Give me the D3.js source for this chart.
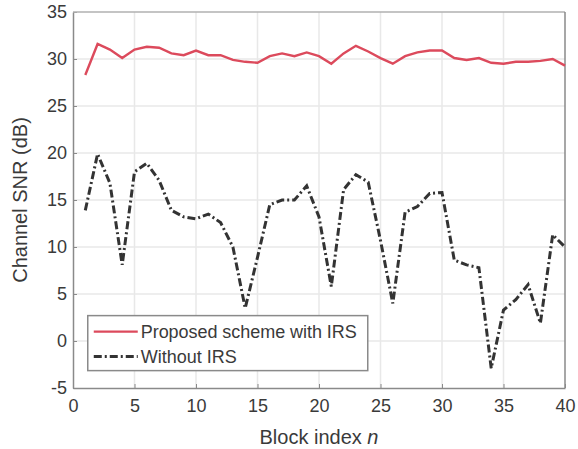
<!DOCTYPE html>
<html>
<head>
<meta charset="utf-8">
<script src="https://cdn.jsdelivr.net/npm/d3@7"></script>
<style>
  body { margin: 0; background: #fff; }
  svg text { font-family: "Liberation Sans", Arial, sans-serif; fill: #3a3a3a; }
</style>
</head>
<body>
<div id="chart"></div>
<script>
// block indices 1..40
var blocks = d3.range(1, 41);

// Proposed scheme with IRS (dB)
var withIRS = [28.3, 31.6, 31.0, 30.1, 31.0, 31.3, 31.2, 30.6, 30.4, 30.9,
               30.4, 30.4, 29.9, 29.7, 29.6, 30.3, 30.6, 30.3, 30.7, 30.3,
               29.5, 30.6, 31.4, 30.8, 30.1, 29.5, 30.3, 30.7, 30.9, 30.9,
               30.1, 29.9, 30.1, 29.6, 29.5, 29.7, 29.7, 29.8, 30.0, 29.3];

// Without IRS (dB)
var withoutIRS = [13.9, 19.9, 16.8, 8.1, 18.0, 18.9, 17.1, 13.9, 13.2, 13.0,
                  13.5, 12.6, 10.0, 3.5, 8.9, 14.5, 15.0, 15.0, 16.5, 13.2,
                  5.8, 16.1, 17.7, 16.9, 10.7, 4.0, 13.7, 14.3, 15.7, 15.8,
                  8.6, 8.1, 7.8, -2.9, 3.3, 4.4, 6.0, 1.9, 11.3, 10.0];

var xTicks = [0, 5, 10, 15, 20, 25, 30, 35, 40];
var yTicks = [-5, 0, 5, 10, 15, 20, 25, 30, 35];

var seriesNames = ["Proposed scheme with IRS", "Without IRS"];

// Set the dimensions of the canvas / graph
var margin = {top: 12, right: 13, bottom: 61, left: 73},
    width = 578 - margin.left - margin.right,
    height = 449 - margin.top - margin.bottom;

var x = d3.scaleLinear().domain([0, 40]).range([0, width]);
var y = d3.scaleLinear().domain([-5, 35]).range([height, 0]);

var svg = d3.select("#chart")
    .append("svg")
        .attr("width", 578)
        .attr("height", 449)
    .append("g")
        .attr("transform", "translate(" + margin.left + "," + margin.top + ")");

// grid
svg.append("g")
    .selectAll("line")
    .data(xTicks.slice(1, -1))
    .enter().append("line")
        .attr("x1", function(d) { return x(d); })
        .attr("x2", function(d) { return x(d); })
        .attr("y1", 0).attr("y2", height)
        .attr("stroke", "#e8e8e8").attr("stroke-width", 1.5);

svg.append("g")
    .selectAll("line")
    .data(yTicks.slice(1, -1))
    .enter().append("line")
        .attr("y1", function(d) { return y(d); })
        .attr("y2", function(d) { return y(d); })
        .attr("x1", 0).attr("x2", width)
        .attr("stroke", "#e8e8e8").attr("stroke-width", 1.5);

// Axes (plain hyphen for negatives, like the original)
var xAxis = d3.axisBottom(x).tickValues(xTicks).tickFormat(String)
    .tickSizeInner(-4).tickSizeOuter(0).tickPadding(11);
var yAxis = d3.axisLeft(y).tickValues(yTicks).tickFormat(String)
    .tickSizeInner(-4).tickSizeOuter(0).tickPadding(6);

var gx = svg.append("g")
    .attr("transform", "translate(0," + height + ")")
    .call(xAxis);
var gy = svg.append("g").call(yAxis);

[gx, gy].forEach(function(g) {
    g.select(".domain").attr("stroke", "#8a8a8a").attr("stroke-width", 1.5);
    g.selectAll(".tick line").attr("stroke", "#8a8a8a");
    g.selectAll(".tick text").attr("font-size", "18px").attr("fill", "#3a3a3a")
        .style("font-family", "'Liberation Sans', Arial, sans-serif");
});

// top and right box edges
svg.append("line").attr("x1", 0).attr("x2", width).attr("y1", 0).attr("y2", 0)
    .attr("stroke", "#b0b0b0").attr("stroke-width", 1.5);
svg.append("line").attr("x1", width).attr("x2", width).attr("y1", 0).attr("y2", height)
    .attr("stroke", "#8a8a8a").attr("stroke-width", 1.5);

// lines
var line = d3.line()
    .x(function(d, i) { return x(blocks[i]); })
    .y(function(d) { return y(d); });

svg.append("path")
    .datum(withIRS)
    .attr("fill", "none")
    .attr("stroke", "#dc4a5c")
    .attr("stroke-width", 2.4)
    .attr("d", line);

svg.append("path")
    .datum(withoutIRS)
    .attr("fill", "none")
    .attr("stroke", "#333")
    .attr("stroke-width", 3)
    .attr("stroke-dasharray", "8,3,2,3")
    .attr("d", line);

// axis labels
svg.append("text")
    .attr("x", width / 2)
    .attr("y", height + 56)
    .attr("text-anchor", "middle")
    .attr("font-size", "20px")
    .html("Block index <tspan font-style='italic'>n</tspan>");

svg.append("text")
    .attr("transform", "translate(-46," + (height / 2) + ") rotate(-90)")
    .attr("text-anchor", "middle")
    .attr("font-size", "20px")
    .text("Channel SNR (dB)");

// legend
var lg = svg.append("g").attr("transform", "translate(" + (x(1.2)) + "," + y(2.7) + ")");
lg.append("rect")
    .attr("width", 280).attr("height", 55)
    .attr("fill", "#fff")
    .attr("stroke", "#8a8a8a").attr("stroke-width", 1.5);

var legStyles = [
    {stroke: "#dc4a5c", w: 2.4, dash: null},
    {stroke: "#333", w: 3, dash: "8,3,2,3"}
];
seriesNames.forEach(function(name, i) {
    var yy = 16 + i * 25;
    lg.append("line")
        .attr("x1", 6).attr("x2", 50).attr("y1", yy).attr("y2", yy)
        .attr("stroke", legStyles[i].stroke)
        .attr("stroke-width", legStyles[i].w)
        .attr("stroke-dasharray", legStyles[i].dash);
    lg.append("text")
        .attr("x", 53).attr("y", yy + 6)
        .attr("font-size", "18px")
        .attr("textLength", name.length > 12 ? 216 : null)
        .text(name);
});
</script>
</body>
</html>
